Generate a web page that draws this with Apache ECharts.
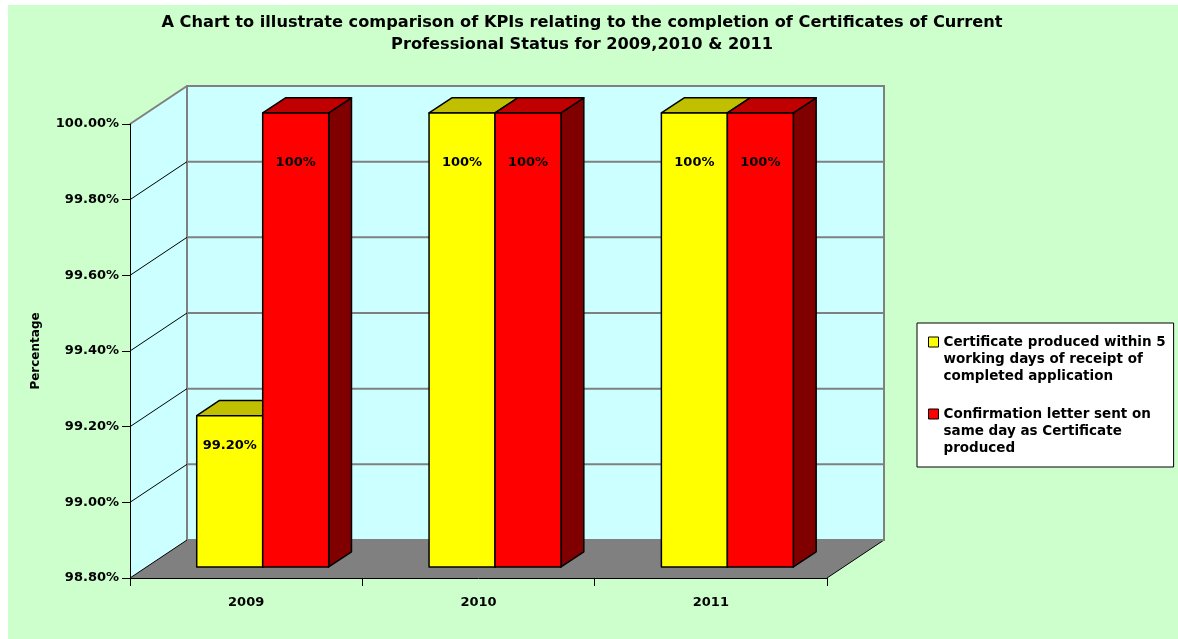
<!DOCTYPE html>
<html lang="en">
<head>
<meta charset="UTF-8" />
<title>CPS KPI comparison 2009-2011</title>
<script src="https://cdn.jsdelivr.net/npm/echarts@6/dist/echarts.min.js"></script>
<style>
  body { margin: 0; background: #fff; }
  #wrap { position: relative; width: 1178px; height: 639px; }
  #bg { position: absolute; left: 8px; top: 5px; right: 0; bottom: 0; background: #ccffcc; }
  #chart { position: absolute; left: 0; top: 0; width: 1178px; height: 639px; }
</style>
</head>
<body>
<div id="wrap"><div id="bg"></div><div id="chart"></div></div>
<script>
// data
const categories = ['2009', '2010', '2011'];
const certProduced = [99.2, 100, 100];
const letterSent = [100, 100, 100];
const yTicks = [98.8, 99.0, 99.2, 99.4, 99.6, 99.8, 100.0];
const seriesNames = [
  'Certificate produced within 5 working days of receipt of completed application',
  'Confirmation letter sent on same day as Certificate produced'
];
const legendText = {};
legendText[seriesNames[0]] = 'Certificate produced within 5\nworking days of receipt of\ncompleted application';
legendText[seriesNames[1]] = 'Confirmation letter sent on\nsame day as Certificate\nproduced';

const FONT = '"DejaVu Sans", Arial, sans-serif';
// fake 3d: full depth of the floor, in px
const DX = 57, DY = -38;
// bars sit between these fractions of the depth
const BAR_FRONT = 0.29, BAR_BACK = 0.69;
const WALL = '#ccffff';
// legend swatch sits beside the first of three text lines
const LEGEND_ICON = 'path://M0,3.5L10,3.5L10,13.5L0,13.5Z M0,0L0.01,0 M0,51L0.01,51';

function renderWalls(params, api) {
  const cs = params.coordSys;
  const x = cs.x, y = cs.y, w = cs.width, h = cs.height;
  return {
    type: 'group',
    children: [
      { type: 'polygon', shape: { points: [[x, y], [x + DX, y + DY], [x + DX, y + h + DY], [x, y + h]] },
        style: { fill: WALL } },
      { type: 'rect', shape: { x: x + DX, y: y + DY, width: w, height: h },
        style: { fill: WALL, stroke: '#808080', lineWidth: 2 } },
      { type: 'polygon', shape: { points: [[x, y + h], [x + DX, y + h + DY], [x + w + DX, y + h + DY], [x + w, y + h]] },
        style: { fill: '#808080' } },
      { type: 'line', shape: { x1: x + w, y1: y + h, x2: x + w + DX, y2: y + h + DY },
        style: { stroke: '#000', lineWidth: 1 } }
    ]
  };
}

function renderGrid(params, api) {
  const cs = params.coordSys;
  const v = api.value(1);
  const yy = api.coord([0, v])[1];
  const top = v >= yTicks[yTicks.length - 1];
  return {
    type: 'group',
    children: [
      { type: 'line', shape: { x1: cs.x + DX, y1: yy + DY, x2: cs.x + cs.width + DX, y2: yy + DY },
        style: { stroke: '#808080', lineWidth: 2 } },
      { type: 'line', shape: { x1: cs.x, y1: yy, x2: cs.x + DX, y2: yy + DY },
        style: { stroke: top ? '#808080' : '#000', lineWidth: top ? 2 : 1 } }
    ]
  };
}

function fmtLabel(v) {
  return (v === 100 ? '100' : v.toFixed(2)) + '%';
}

function barSeries(name, values, slot, front, topC, sideC) {
  return {
    name: name,
    type: 'custom',
    z: 3,
    itemStyle: { color: front },
    data: values.map((v, i) => [i, v]),
    renderItem: function (params, api) {
      const i = api.value(0), v = api.value(1);
      const p = api.coord([i, v]);
      const base = api.coord([i, yTicks[0]]);
      const barW = api.size([1, 0])[0] * 0.284;
      const fdx = DX * BAR_FRONT, fdy = DY * BAR_FRONT;
      const bdx = DX * (BAR_BACK - BAR_FRONT), bdy = DY * (BAR_BACK - BAR_FRONT);
      const x0 = p[0] + fdx - barW + slot * barW, x1 = x0 + barW;
      const top = p[1] + fdy, bottom = base[1] + fdy;
      const h = bottom - top;
      const edge = { stroke: '#000', lineWidth: 1.5, lineJoin: 'round' };
      return {
        type: 'group',
        children: [
          { type: 'polygon', shape: { points: [[x1, top], [x1 + bdx, top + bdy], [x1 + bdx, bottom + bdy], [x1, bottom]] },
            style: Object.assign({ fill: sideC }, edge) },
          { type: 'polygon', shape: { points: [[x0, top], [x1, top], [x1 + bdx, top + bdy], [x0 + bdx, top + bdy]] },
            style: Object.assign({ fill: topC }, edge) },
          { type: 'rect', shape: { x: x0, y: top, width: barW, height: h },
            style: Object.assign({ fill: front }, edge) },
          { type: 'text', style: { text: fmtLabel(v), x: (x0 + x1) / 2, y: top + Math.min(50, h * 0.2),
              align: 'center', verticalAlign: 'middle', fill: '#000', font: 'bold 13px ' + FONT } }
        ]
      };
    }
  };
}

const chart = echarts.init(document.getElementById('chart'));
chart.setOption({
  animation: false,
  backgroundColor: 'transparent',
  title: {
    text: 'A Chart to illustrate comparison of KPIs relating to the completion of Certificates of Current\nProfessional Status for 2009,2010 & 2011',
    left: 582,
    top: 7,
    textAlign: 'center',
    padding: [5, 0, 5, 0],
    textStyle: { fontFamily: FONT, fontWeight: 'bold', fontSize: 16.2, lineHeight: 22, color: '#000' }
  },
  grid: { left: 130, right: 351, top: 124, bottom: 61, containLabel: false },
  legend: {
    orient: 'vertical',
    left: 917,
    top: 323,
    backgroundColor: '#fff',
    borderColor: '#000',
    borderWidth: 1,
    padding: [10, 8, 10, 11],
    itemGap: 20,
    itemWidth: 10,
    itemHeight: 51,
    icon: LEGEND_ICON,
    selectedMode: false,
    formatter: name => legendText[name],
    textStyle: { fontFamily: FONT, fontWeight: 'bold', fontSize: 13.5, lineHeight: 17, color: '#000' },
    data: [
      { name: seriesNames[0], itemStyle: { color: '#ffff00', borderColor: '#000', borderWidth: 1 } },
      { name: seriesNames[1], itemStyle: { color: '#ff0000', borderColor: '#000', borderWidth: 1 } }
    ]
  },
  xAxis: {
    type: 'category',
    data: categories,
    z: 5,
    axisLine: { lineStyle: { color: '#000', width: 1 } },
    axisTick: { show: true, length: 8, lineStyle: { color: '#000' } },
    axisLabel: { margin: 18, color: '#000', fontFamily: FONT, fontWeight: 'bold', fontSize: 13 },
    splitLine: { show: false }
  },
  yAxis: {
    type: 'value',
    min: yTicks[0],
    max: yTicks[yTicks.length - 1],
    interval: 0.2,
    z: 5,
    name: 'Percentage',
    nameLocation: 'middle',
    nameRotate: 90,
    nameGap: 88,
    nameTextStyle: { color: '#000', fontFamily: FONT, fontWeight: 'bold', fontSize: 12 },
    axisLine: { show: true, lineStyle: { color: '#000', width: 1 } },
    axisTick: { show: true, length: 8, lineStyle: { color: '#000' } },
    axisLabel: { margin: 11, color: '#000', fontFamily: FONT, fontWeight: 'bold', fontSize: 13,
      formatter: v => v.toFixed(2) + '%' },
    splitLine: { show: false }
  },
  series: [
    { type: 'custom', z: 1, silent: true, data: [[0, yTicks[0]]], renderItem: renderWalls },
    { type: 'custom', z: 2, silent: true, data: yTicks.map(v => [0, v]), renderItem: renderGrid },
    barSeries(seriesNames[0], certProduced, 0, '#ffff00', '#c0c000', '#808000'),
    barSeries(seriesNames[1], letterSent, 1, '#ff0000', '#c00000', '#800000')
  ]
});
</script>
</body>
</html>
